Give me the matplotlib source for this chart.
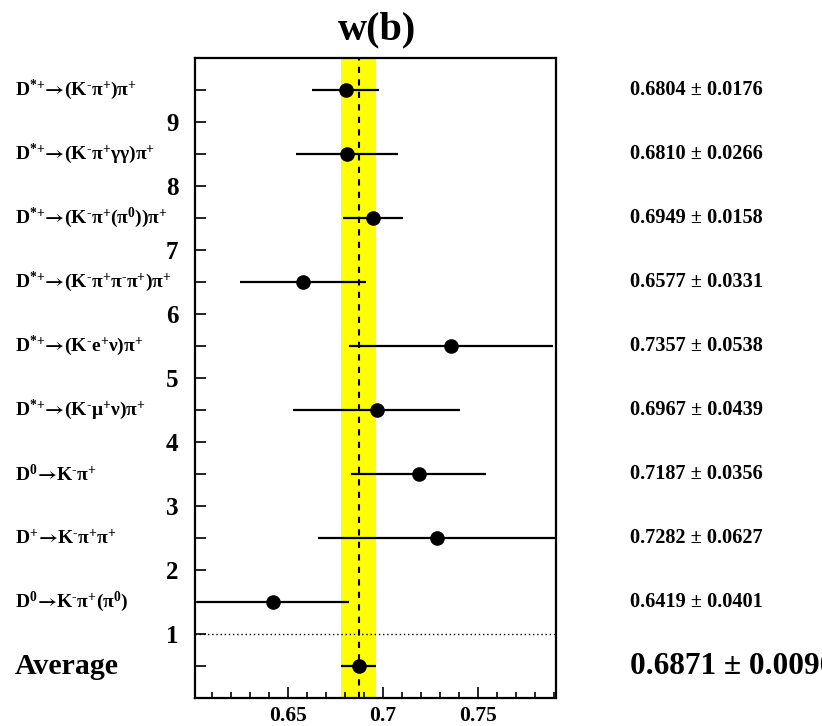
import matplotlib
matplotlib.use("Agg")
import matplotlib.pyplot as plt
from matplotlib.ticker import MultipleLocator

plt.rcParams['font.family'] = ['Liberation Serif', 'DejaVu Serif']
plt.rcParams['font.weight'] = 'bold'
plt.rcParams['mathtext.fontset'] = 'custom'
plt.rcParams['mathtext.rm'] = 'Liberation Serif:bold'
plt.rcParams['mathtext.it'] = 'Liberation Serif:bold'
plt.rcParams['mathtext.bf'] = 'Liberation Serif:bold'
plt.rcParams['mathtext.sf'] = 'STIXGeneral'
plt.rcParams['mathtext.fallback'] = 'stix'

A = r'\!{\mathsf{\rightarrow}}\!'
M = r'\text{-}'
S = r'^{{*}{+}}'
# Data (top to bottom)
labels = [
    r'$\mathrm{D' + S + A + r'(K^{' + M + r'}\pi^{+})\pi^{+}}$',
    r'$\mathrm{D' + S + A + r'(K^{' + M + r'}\pi^{+}\gamma\gamma)\pi^{+}}$',
    r'$\mathrm{D' + S + A + r'(K^{' + M + r'}\pi^{+}(\pi^{0}))\pi^{+}}$',
    r'$\mathrm{D' + S + A + r'(K^{' + M + r'}\pi^{+}\pi^{' + M + r'}\pi^{+})\pi^{+}}$',
    r'$\mathrm{D' + S + A + r'(K^{' + M + r'}e^{+}\nu)\pi^{+}}$',
    r'$\mathrm{D' + S + A + r'(K^{' + M + r'}\mu^{+}\nu)\pi^{+}}$',
    r'$\mathrm{D^{0}' + A + r'K^{' + M + r'}\pi^{+}}$',
    r'$\mathrm{D^{+}' + A + r'K^{' + M + r'}\pi^{+}\pi^{+}}$',
    r'$\mathrm{D^{0}' + A + r'K^{' + M + r'}\pi^{+}(\pi^{0})}$',
]
values = [0.6804, 0.6810, 0.6949, 0.6577, 0.7357, 0.6967, 0.7187, 0.7282, 0.6419]
errors = [0.0176, 0.0266, 0.0158, 0.0331, 0.0538, 0.0439, 0.0356, 0.0627, 0.0401]
avg_label = 'Average'
avg_value = 0.6871
avg_error = 0.0090
title = 'w(b)'
xlim = (0.601, 0.791)
ytick_labels = ['1', '2', '3', '4', '5', '6', '7', '8', '9']

fig = plt.figure(figsize=(8.22, 7.26), dpi=100)
ax = fig.add_axes([195/822, 1-698/726, (556-195)/822, (698-58)/726])

n = len(values)
ypos = [n - i + 0.5 for i in range(n)]

ax.axvspan(avg_value - avg_error, avg_value + avg_error, color='#ffff00', zorder=0, lw=0)
ax.axvline(avg_value, color='black', ls=(0, (3, 3)), lw=1.5, zorder=1)
ax.axhline(1, color='black', ls=(0, (1, 2)), lw=1.0, zorder=1)

ax.errorbar(values, ypos, xerr=errors, fmt='o', color='black', ms=9.5,
            elinewidth=1.6, capsize=0, zorder=3, clip_on=True)
ax.errorbar([avg_value], [0.5], xerr=[avg_error], fmt='o', color='black', ms=9.5,
            elinewidth=1.6, capsize=0, zorder=3)

ax.set_xlim(*xlim)
ax.set_ylim(0, 10)

ax.xaxis.set_minor_locator(MultipleLocator(0.01))
ax.set_xticks([0.65, 0.70, 0.75])
ax.set_xticklabels(['0.65', '0.7', '0.75'])
ax.set_yticks(range(1, 10))
ax.set_yticklabels(ytick_labels)
ax.set_yticks([k + 0.5 for k in range(10)], minor=True)

ax.tick_params(axis='both', which='both', direction='in', top=False, right=False)
ax.tick_params(axis='x', which='major', length=8, width=1.2, labelsize=15.5, pad=6)
ax.tick_params(axis='x', which='minor', length=4, width=1.2)
ax.tick_params(axis='y', which='major', length=8, width=1.2, labelsize=18, pad=12)
ax.tick_params(axis='y', which='minor', length=8, width=1.2)
for lab in ax.get_xticklabels() + ax.get_yticklabels():
    lab.set_fontweight('bold')
for s in ax.spines.values():
    s.set_linewidth(1.6)

fig.text(377/822, 1-30/726, title, ha='center', va='center', fontsize=29, fontweight='bold')

for lab, y, v, e in zip(labels, ypos, values, errors):
    yf = ax.transData.transform((0, y))[1]
    fig.text(15/822, yf/726, lab, ha='left', va='center', fontsize=14)
    fig.text(630/822, yf/726, f'{v:.4f} \u00b1 {e:.4f}', ha='left', va='center',
             fontsize=14.6, fontweight='bold')

yf = ax.transData.transform((0, 0.5))[1]
fig.text(15/822, yf/726, avg_label, ha='left', va='center', fontsize=21.5, fontweight='bold')
fig.text(630/822, yf/726, f'{avg_value:.4f} \u00b1 {avg_error:.4f}', ha='left', va='center',
         fontsize=22.5, fontweight='bold')

fig.savefig('out.png', dpi=100)
